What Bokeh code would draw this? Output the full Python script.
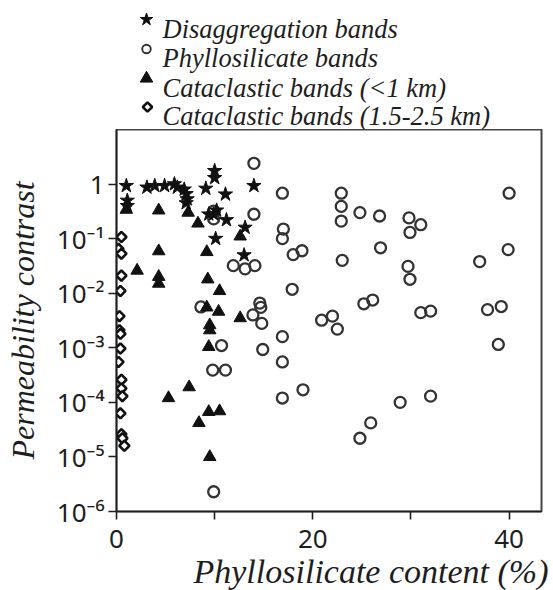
import math
from bokeh.plotting import figure
from bokeh.layouts import column
from bokeh.models import FixedTicker, Range1d, Title, CustomJSTickFormatter
from bokeh.core.properties import value
from bokeh.embed import file_html
from bokeh.resources import INLINE

# ---------------- data ----------------
disagg_x = [1.0, 1.1, 1.1, 3.1, 3.9, 4.9, 5.9, 6.2, 6.9, 7.1, 7.2, 7.1,
            9.1, 10.0, 10.0, 11.1, 9.4, 9.9, 10.2, 11.2, 10.1, 13.1, 13.0, 14.0]
disagg_y = [0.93, 0.50, 0.40, 0.87, 0.93, 0.93, 1.0, 0.87, 0.80, 0.66, 0.53, 0.45,
            0.83, 1.75, 1.3, 0.65, 0.28, 0.28, 0.33, 0.22, 0.10, 0.16, 0.05, 0.93]

phyllo_x = [14.0, 14.0, 9.9, 9.9, 16.9, 17.0, 16.9, 11.9, 13.1, 14.1, 18.0, 18.9,
            22.9, 22.9, 22.9, 23.0, 24.8, 26.8, 26.9, 29.8, 31.0, 29.9, 29.7, 29.9,
            40.0, 39.9, 37.0, 17.9, 8.6, 14.6, 14.7, 13.9, 14.8, 14.9,
            16.9, 16.9, 16.9, 19.0, 20.9, 22.0, 22.5, 25.2, 26.1, 31.0, 32.0,
            37.8, 39.2, 38.9, 28.9, 32.0, 25.9, 24.8, 10.7, 9.8, 11.1, 9.9]
phyllo_y = [2.4, 0.28, 0.32, 0.23, 0.68, 0.15, 0.10, 0.032, 0.028, 0.032, 0.051, 0.060,
            0.68, 0.39, 0.21, 0.040, 0.30, 0.26, 0.068, 0.24, 0.18, 0.13, 0.031, 0.018,
            0.68, 0.063, 0.038, 0.0118, 0.0056, 0.0066, 0.0055, 0.0040, 0.0028, 0.00093,
            0.0016, 0.00055, 0.00012, 0.00017, 0.0032, 0.0038, 0.0022, 0.0064, 0.0075,
            0.0044, 0.0047, 0.0050, 0.0057, 0.00115, 1.0e-4, 1.3e-4, 4.2e-5, 2.2e-5,
            0.0011, 0.00039, 0.00039, 2.3e-6]

cata1_x = [1.0, 4.3, 7.3, 8.3, 4.3, 2.1, 4.3, 4.3, 9.2, 12.6, 9.3, 10.5, 9.2, 10.4,
           12.6, 9.5, 9.5, 9.4, 5.3, 7.4, 9.4, 10.5, 8.4, 9.5]
cata1_y = [0.34, 0.33, 0.30, 0.19, 0.059, 0.026, 0.020, 0.015, 0.057, 0.11, 0.018,
           0.011, 0.0055, 0.0046, 0.0035, 0.0026, 0.0021, 0.00104, 1.2e-4, 1.9e-4,
           6.7e-5, 6.9e-5, 4.2e-5, 1.0e-5]

cata2_x = [0.5, 0.2, 0.5, 0.5, 0.4, 0.3, 0.3, 0.4, 0.4, 0.2, 0.5, 0.5, 0.6, 0.4,
           0.5, 0.6, 0.8]
cata2_y = [0.107, 0.065, 0.053, 0.021, 0.011, 0.0038, 0.0021, 0.0018, 0.00097,
           0.00055, 0.00026, 0.00018, 0.00013, 6.3e-5, 2.6e-5, 2.2e-5, 1.6e-5]

series_labels = ["Disaggregation bands", "Phyllosilicate bands",
                 "Cataclastic bands (<1 km)", "Cataclastic bands (1.5-2.5 km)"]

x_major_ticks = [0, 20, 40]
x_minor_ticks = [10, 30]
y_ticks = [1e-6, 1e-5, 1e-4, 1e-3, 1e-2, 1e-1, 1]
y_tick_labels = ["10\u207b\u2076", "10\u207b\u2075", "10\u207b\u2074", "10\u207b\u00b3",
                 "10\u207b\u00b2", "10\u207b\u00b9", "1"]

x_label = "Phyllosilicate content (%)"
y_label = "Permeability contrast"

ink = "#1e1e1e"
W = 553
ML, MR = 116, 12     # left / right borders shared by both canvases (frames are aligned)
LEG_H = 129          # legend strip height (pixels)
MAIN_H = 590 - LEG_H

# ---------------- legend strip (pixel coordinates inside the aligned frame) ----------------
leg = figure(width=W, height=LEG_H, x_range=Range1d(ML, W - MR), y_range=Range1d(LEG_H, 0),
             output_backend="svg", toolbar_location=None,
             x_axis_location=None, y_axis_location=None,
             min_border_left=ML, min_border_right=MR, min_border_top=0,
             min_border_bottom=0, outline_line_color=None)
leg.xgrid.visible = False
leg.ygrid.visible = False
row_base = [28, 57.5, 87, 115.5]        # text baselines of the four rows
mark_x = 146
text_x = 162
mark_y = [b - 9 for b in row_base]
leg.scatter([mark_x], [mark_y[0]], marker="star", size=13, fill_color="#111111",
            line_color="#111111")
leg.scatter([mark_x], [mark_y[1]], marker="circle", size=8.5, fill_color=None,
            line_color="#333333", line_width=1.9)
leg.scatter([mark_x], [mark_y[2]], marker="triangle", size=12.5, fill_color="#111111",
            line_color="#111111")
leg.scatter([mark_x + 1], [mark_y[3]], marker="square", angle=math.pi / 4, size=6.6,
            fill_color="white", line_color="#111111", line_width=2.6)
leg.text(x=[text_x] * 4, y=row_base, text=series_labels,
         text_font=value("Liberation Serif"), text_font_style="italic",
         text_font_size="26.5px", text_color=ink, text_baseline="alphabetic",
         text_align="left")

# ---------------- main figure ----------------
MT, MB = 0, 78
p = figure(width=W, height=MAIN_H, y_axis_type="log",
           x_range=Range1d(0, 43.3), y_range=Range1d(1e-6, 10),
           output_backend="svg", toolbar_location=None,
           min_border_left=ML, min_border_right=MR,
           min_border_top=MT, min_border_bottom=MB)
p.xgrid.visible = False
p.ygrid.visible = False
p.outline_line_color = "#444444"
p.outline_line_width = 2

p.xaxis.ticker = FixedTicker(ticks=x_major_ticks, minor_ticks=x_minor_ticks)
p.yaxis.ticker = FixedTicker(ticks=y_ticks)
p.yaxis.formatter = CustomJSTickFormatter(
    args=dict(vals=y_ticks, labels=y_tick_labels),
    code="""
for (let i = 0; i < vals.length; i++) {
  if (Math.abs(Math.log10(tick) - Math.log10(vals[i])) < 1e-6) { return labels[i]; }
}
return "";
""")
for ax in (p.xaxis[0], p.yaxis[0]):
    ax.axis_line_color = ink
    ax.axis_line_width = 1.6
    ax.major_tick_line_color = ink
    ax.major_tick_line_width = 1.6
    ax.major_tick_out = 8
    ax.major_tick_in = 0
    ax.minor_tick_line_color = ink
    ax.minor_tick_line_width = 1.6
    ax.minor_tick_out = 8
    ax.minor_tick_in = 0
    ax.major_label_text_font = "Noto Sans"
    ax.major_label_text_font_size = "26px"
    ax.major_label_text_color = ink
p.yaxis.minor_tick_out = 0
p.yaxis.major_label_standoff = 4
p.xaxis.major_label_standoff = 10

p.yaxis.axis_label = y_label
p.yaxis.axis_label_text_font = "Liberation Serif"
p.yaxis.axis_label_text_font_style = "italic"
p.yaxis.axis_label_text_font_size = "32px"
p.yaxis.axis_label_text_color = ink
p.yaxis.axis_label_standoff = 13

p.add_layout(Title(text=x_label, align="right", offset=-7, standoff=1,
                   text_font="Liberation Serif", text_font_style="italic",
                   text_font_size="34px", text_color=ink), "below")

p.scatter(phyllo_x, phyllo_y, marker="circle", size=11, fill_color=None,
          line_color="#333333", line_width=2.3)
p.scatter(cata1_x, cata1_y, marker="triangle", size=12.5, fill_color="#111111",
          line_color="#111111", line_width=1)
p.scatter(disagg_x, disagg_y, marker="star", size=15, fill_color="#111111",
          line_color="#111111", line_width=1)
p.scatter(cata2_x, cata2_y, marker="square", angle=math.pi / 4, size=7.2,
          fill_color="white", line_color="#111111", line_width=2.6)

layout = column(leg, p, spacing=0)
open("out.html", "w").write(file_html(layout, INLINE))
